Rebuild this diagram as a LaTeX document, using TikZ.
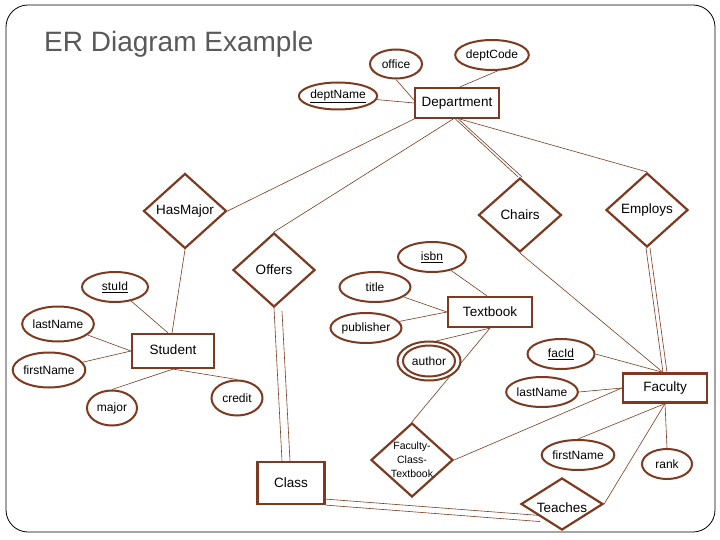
\documentclass[tikz,border=0pt]{standalone}
\usepackage{fontspec}
\setmainfont{Liberation Sans}
\usetikzlibrary{shapes.geometric,backgrounds}
\definecolor{brd}{RGB}{125,58,32}
\definecolor{ttl}{RGB}{89,89,89}
\begin{document}
\begin{tikzpicture}[x=1pt,y=-1pt,
  ent/.style={draw=brd, line width=2.2pt, rectangle, inner sep=0pt, fill=white, font=\fontsize{13.5}{15}\selectfont},
  attr/.style={draw=brd, line width=2pt, ellipse, inner sep=0pt, fill=white, font=\fontsize{12}{13}\selectfont},
  rel/.style={draw=brd, line width=2.2pt, diamond, inner sep=0pt, fill=white, font=\fontsize{13.5}{15}\selectfont},
  conn/.style={draw=brd, line width=0.6pt}]
\useasboundingbox (0,0) rectangle (720,540);

% heading
\node[anchor=base west, inner sep=0pt, text=ttl, font=\fontsize{28}{32}\selectfont] (heading) at (44,52) {ER Diagram Example};

% Department cluster
\node[attr, minimum width=52pt, minimum height=29pt] (office) at (396,64) {office};
\node[attr, minimum width=67pt, minimum height=30pt] (deptCode) at (492,55) {deptCode};
\node[attr, minimum width=68pt, minimum height=27pt] (deptName) at (338,96) {\underline{deptName}};
\node[ent, minimum width=84pt, minimum height=30pt] (Department) at (457,103) {Department};

% relationships top
\node[rel, minimum width=83pt, minimum height=75pt] (HasMajor) at (185,211) {HasMajor};
\node[rel, minimum width=83pt, minimum height=74pt] (Chairs) at (520,215) {Chairs};
\node[rel, minimum width=82pt, minimum height=74pt] (Employs) at (647,210) {Employs};
\node[rel, minimum width=82pt, minimum height=74pt] (Offers) at (274,270) {Offers};

% Textbook cluster
\node[attr, minimum width=68pt, minimum height=30pt] (isbn) at (432,257) {\underline{isbn}};
\node[attr, minimum width=71pt, minimum height=30pt] (title) at (375,287) {title};
\node[ent, minimum width=84pt, minimum height=30pt] (Textbook) at (490,312) {Textbook};
\node[attr, minimum width=71pt, minimum height=30pt] (publisher) at (366,328) {publisher};
\node[attr, minimum width=63pt, minimum height=39pt] (authorO) at (429,361) {};
\node[attr, minimum width=52pt, minimum height=31pt] (author) at (429,361) {author};

% Student cluster
\node[attr, minimum width=66pt, minimum height=30pt] (stuId) at (115,287) {\underline{stuId}};
\node[attr, minimum width=70pt, minimum height=35pt] (lastNameS) at (58,324) {lastName};
\node[attr, minimum width=71pt, minimum height=35pt] (firstNameS) at (49,370) {firstName};
\node[ent, minimum width=82pt, minimum height=34pt] (Student) at (173,351) {\raisebox{3pt}{Student}};
\node[attr, minimum width=50pt, minimum height=35pt] (major) at (112,408) {major};
\node[attr, minimum width=51pt, minimum height=35pt] (credit) at (237,398) {credit};
\node[ent, minimum width=67pt, minimum height=42pt] (Class) at (291,483) {Class};

% Faculty cluster
\node[attr, minimum width=67pt, minimum height=30pt] (facId) at (561,354) {\underline{facId}};
\node[attr, minimum width=70pt, minimum height=30pt] (lastNameF) at (542,392) {lastName};
\node[ent, minimum width=84pt, minimum height=29pt] (Faculty) at (665,388) {Faculty};
\node[attr, minimum width=70pt, minimum height=30pt] (firstNameF) at (578,455) {firstName};
\node[attr, minimum width=50pt, minimum height=30pt] (rank) at (667,464) {rank};
\node[rel, minimum width=82pt, minimum height=74pt,
  label={[font=\fontsize{10.5}{14}\selectfont, align=center]center:Faculty-\\Class-\\Textbook}] (FCT) at (412,460) {};
\node[rel, minimum width=82pt, minimum height=52pt,
  label={[font=\fontsize{13.5}{15}\selectfont, yshift=-4pt]center:Teaches}] (Teaches) at (562,504) {};

\begin{scope}[on background layer]
\draw[black, line width=0.8pt, rounded corners=22pt] (6,5) rectangle (715,532);
% Department
\draw[conn] (office.south) -- ([yshift=3pt]Department.west);
\draw[conn] (deptCode.-70) -- ([xshift=3pt]Department.north);
\draw[conn] (deptName) -- (Department.west);
\draw[conn] (HasMajor.east) -- (Department.south west);
\draw[conn] (Offers.north) -- ([xshift=-4pt]Department.south);
\draw[conn] ([xshift=-1.5pt]Department.south) -- ([xshift=-2pt]Chairs.north);
\draw[conn] ([xshift=1.5pt]Department.south) -- ([xshift=2pt]Chairs.north);
\draw[conn] ([xshift=3pt]Department.south) -- (Employs.north);
% Faculty
\draw[conn] (Chairs.south) -- ([xshift=-2pt]Faculty.north);
\draw[conn] ([xshift=-1pt]Employs.south) -- ([xshift=-2pt]Faculty.north);
\draw[conn] ([xshift=3pt]Employs.south) -- ([xshift=2pt]Faculty.north);
\draw[conn] (facId.east) -- ([xshift=-2pt]Faculty.north);
\draw[conn] (lastNameF.east) -- (Faculty.west);
\draw[conn] (FCT.east) -- (Faculty.west);
\draw[conn] (firstNameF.north) -- (Faculty.south);
\draw[conn] (rank.north) -- (Faculty.south);
\draw[conn] (Teaches.east) -- (Faculty.south);
% Class
\draw[conn] (Offers.south) -- ([xshift=-9pt]Class.north);
\draw[conn] ([xshift=8pt,yshift=-3pt]Offers.south) -- ([xshift=-1pt]Class.north);
\draw[conn] ([yshift=6pt]Class.south east) -- ([yshift=2pt]Teaches.south west);
\draw[conn] (Class.south east) -- ([yshift=-4pt,xshift=-1pt]Teaches.south west);
% Student
\draw[conn] (HasMajor.south) -- ([xshift=-1pt]Student.north);
\draw[conn] (stuId) -- ([xshift=-5pt]Student.north);
\draw[conn] (lastNameS) -- (Student.west);
\draw[conn] (firstNameS) -- (Student.west);
\draw[conn] (major.north) -- (Student.south);
\draw[conn] (credit.north) -- (Student.south);
% Textbook
\draw[conn] (isbn) -- ([xshift=-3pt]Textbook.north);
\draw[conn] (title) -- (Textbook.west);
\draw[conn] (publisher) -- (Textbook.west);
\draw[conn] (authorO.70) -- (Textbook.south);
\draw[conn] (FCT.north) -- (Textbook.south);
\end{scope}
\end{tikzpicture}
\end{document}
